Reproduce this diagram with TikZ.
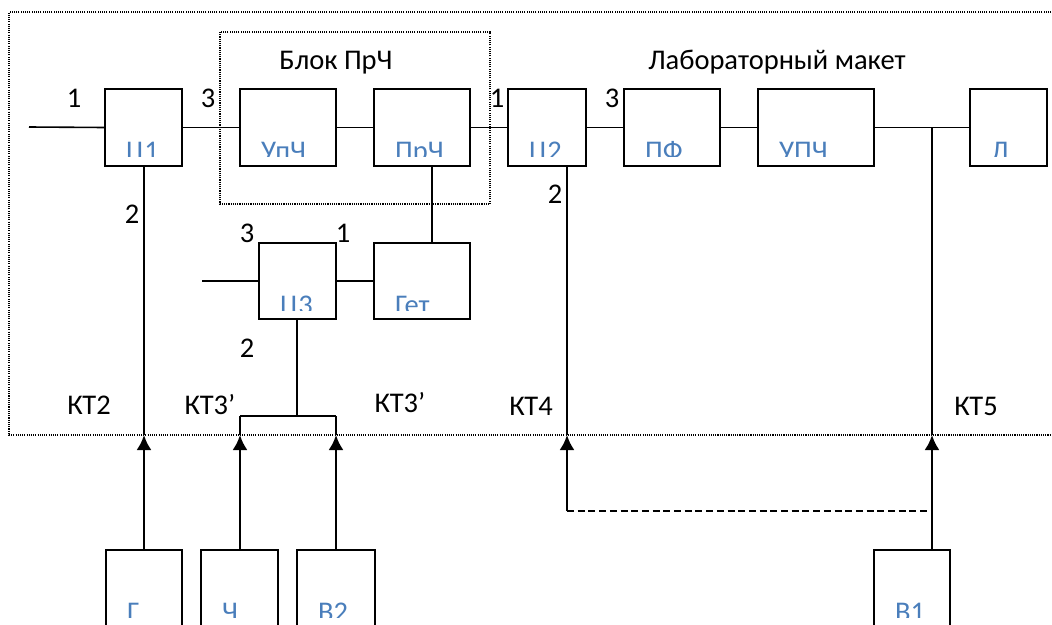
\documentclass[tikz,border=0pt]{standalone}
\usepackage{fontspec}
\setmainfont{Carlito}
\usetikzlibrary{arrows.meta}
\definecolor{lblblue}{HTML}{4A7EBB}
\tikzset{
  blk/.style={draw, line width=1.8pt, rectangle, inner sep=0pt, outer sep=0pt},
  lbl/.style={text=lblblue, font=\fontsize{28.5}{32}\selectfont, inner sep=0pt},
  txt/.style={font=\fontsize{28.5}{32}\selectfont, inner sep=0pt, anchor=base},
  wire/.style={line width=1.6pt},
  feed/.style={line width=2.4pt, -{Latex[length=15pt,width=15pt]}},
  frame/.style={line width=1.1pt, dash pattern=on 1.1pt off 1.1pt}
}
\newcommand{\mkblk}[6]{%
  \node[blk, minimum width=#4pt-#2pt, minimum height=#5pt-#3pt, anchor=north west] (#1) at (#2,#3) {};
  \begin{scope}
    \clip (#2,#3) rectangle (#4,#3+67.5);
    \node[lbl, anchor=base west] (#1-t) at (#2+21,#3+71) {#6};
  \end{scope}}
\begin{document}
\begin{tikzpicture}[x=1pt,y=-1pt]
\clip (0,0) rectangle (1052,624);
\useasboundingbox (0,0) rectangle (1052,624);
% frames
\draw[frame] (1060,12) -- (9,12) -- (9,435) -- (1060,435);
\draw[frame] (220,32) rectangle (490,204);
% blocks
\mkblk{c1}{105}{89}{182}{166}{Ц1}
\mkblk{up}{240}{89}{336}{166}{УпЧ}
\mkblk{pr}{374}{89}{470}{166}{ПрЧ}
\mkblk{c2}{508}{89}{586}{166}{Ц2}
\mkblk{pf}{624}{89}{720}{166}{ПФ}
\mkblk{upc}{758}{89}{874}{166}{УПЧ}
\mkblk{l}{970}{89}{1047}{166}{Л}
\mkblk{c3}{259}{243}{336}{319}{Ц3}
\mkblk{get}{374}{243}{470}{319}{Гет}
\mkblk{g}{106}{550}{182}{680}{Г}
\mkblk{ch}{201}{550}{278}{680}{Ч}
\mkblk{v2}{297}{550}{375}{680}{В2}
\mkblk{v1}{874}{550}{950}{680}{В1}
% coordinates
\coordinate (in1) at (29,127);
\coordinate (in3) at (202,281);
\coordinate (j5) at (932,127);
\coordinate (kt2) at (144,435);
\coordinate (kt3a) at (240,435);
\coordinate (kt3b) at (336,435);
\coordinate (kt4) at (567,435);
\coordinate (kt5) at (932,435);
\coordinate (sp) at (297,416);
\coordinate (spa) at (240,416);
\coordinate (spb) at (336,416);
\coordinate (d1) at (567,511);
\coordinate (d2) at (932,511);
% wires
\draw[wire] (in1) -- (c1.west);
\draw[wire] (c1.east) -- (up.west);
\draw[wire] (up.east) -- (pr.west);
\draw[wire] (pr.east) -- (c2.west);
\draw[wire] (c2.east) -- (pf.west);
\draw[wire] (pf.east) -- (upc.west);
\draw[wire] (upc.east) -- (l.west);
\draw[wire] (j5) -- (kt5);
\draw[wire] (c1.south -| kt2) -- (kt2);
\draw[wire] ([xshift=10pt]pr.south) -- ([xshift=10pt]get.north);
\draw[wire] (in3) -- (c3.west);
\draw[wire] (c3.east) -- (get.west);
\draw[wire] (c3.south -| sp) -- (sp);
\draw[wire] (spa) -- (spb);
\draw[wire] (spa) -- (kt3a);
\draw[wire] (spb) -- (kt3b);
\draw[wire] (c2.south -| kt4) -- (kt4);
% feeds
\draw[feed] (g.north -| kt2) -- (kt2);
\draw[feed] (ch.north -| kt3a) -- (kt3a);
\draw[feed] (v2.north -| kt3b) -- (kt3b);
\draw[feed] (v1.north -| kt5) -- (kt5);
\draw[feed] (d1) -- (kt4);
\draw[line width=2.2pt, dash pattern=on 7pt off 3.7pt] (d1) -- (d2);
% thick tops of lower blocks
\foreach \b in {g,ch,v2,v1} \draw[line width=2.6pt] (\b.north west) -- (\b.north east);
% texts
\node[txt] (t1) at (74,107) {1};
\node[txt] (t2) at (208,107) {3};
\node[txt] (t3) at (336,69) {Блок ПрЧ};
\node[txt] (t4) at (497,107) {1};
\node[txt] (t5) at (132,223) {2};
\node[txt] (t6) at (612,107) {3};
\node[txt] (t7) at (555,203) {2};
\node[txt] (t8) at (777,69) {Лабораторный макет};
\node[txt] (t9) at (247,242) {3};
\node[txt] (t10) at (343,242) {1};
\node[txt] (t11) at (247,357) {2};
\node[txt] (t12) at (89,414) {КТ2};
\node[txt] (t13) at (210,414) {КТ3’};
\node[txt] (t14) at (400,412) {КТ3’};
\node[txt] (t15) at (531,415) {КТ4};
\node[txt] (t16) at (976,415) {КТ5};
\end{tikzpicture}
\end{document}
